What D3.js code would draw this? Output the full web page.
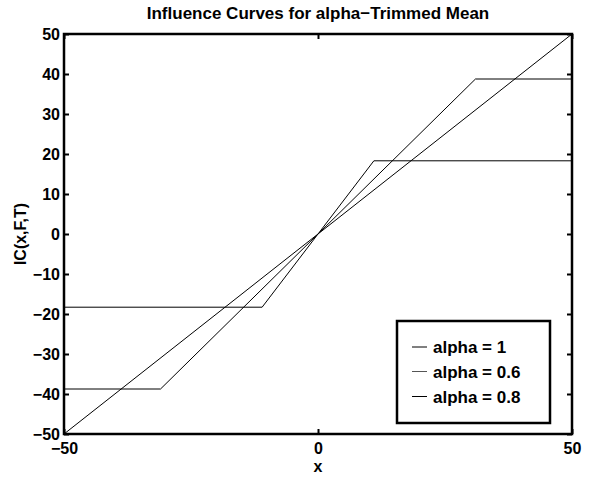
<!DOCTYPE html>
<html><head><meta charset="utf-8">
<script src="https://cdn.jsdelivr.net/npm/d3@7"></script>
<style>
body{margin:0;background:#fff;}
text{font-family:"Liberation Sans",Arial,Helvetica,sans-serif;font-weight:bold;fill:#000;}
</style></head>
<body><svg id="c" width="605" height="477"></svg>
<script>
const title = "Influence Curves for alpha\u2212Trimmed Mean";
const xLabel = "x";
const yLabel = "IC(x,F,T)";
const xTicks = [-50, 0, 50];
const yTicks = [-50, -40, -30, -20, -10, 0, 10, 20, 30, 40, 50];
const seriesNames = ["alpha = 1", "alpha = 0.6", "alpha = 0.8"];
const alpha1X = [-50, 50];
const alpha1Y = [-50, 50];
const alpha06X = [-50, -11, 11, 50];
const alpha06Y = [-18.3, -18.3, 18.3, 18.3];
const alpha08X = [-50, -31, 31, 50];
const alpha08Y = [-38.75, -38.75, 38.75, 38.75];

const svg = d3.select("#c");
const L = 64, R = 572, T = 34, B = 434;
const x = d3.scaleLinear().domain([-50, 50]).range([L, R]);
const y = d3.scaleLinear().domain([-50, 50]).range([B, T]);
const fmt = d => (d < 0 ? "\u2212" + Math.abs(d) : String(d));

const series = [
  {name: seriesNames[0], xs: alpha1X, ys: alpha1Y, color: "#000"},
  {name: seriesNames[1], xs: alpha06X, ys: alpha06Y, color: "#000"},
  {name: seriesNames[2], xs: alpha08X, ys: alpha08Y, color: "#000"}
];
const line = d3.line().x(d => x(d[0])).y(d => y(d[1]));
const plot = svg.append("g");
series.forEach(s => {
  plot.append("path")
    .datum(s.xs.map((v, i) => [v, s.ys[i]]))
    .attr("d", line).attr("fill", "none")
    .attr("stroke", s.color).attr("stroke-width", 1);
});

// axes
const axL = svg.append("g").attr("transform", `translate(${L},0)`)
  .call(d3.axisLeft(y).tickValues(yTicks).tickSize(-5).tickPadding(4).tickFormat(fmt));
const axR = svg.append("g").attr("transform", `translate(${R},0)`)
  .call(d3.axisRight(y).tickValues(yTicks).tickSize(-5).tickFormat(""));
const axB = svg.append("g").attr("transform", `translate(0,${B})`)
  .call(d3.axisBottom(x).tickValues(xTicks).tickSize(-5).tickPadding(9).tickFormat(fmt));
const axT = svg.append("g").attr("transform", `translate(0,${T})`)
  .call(d3.axisTop(x).tickValues(xTicks).tickSize(-5).tickFormat(""));
[axL, axR, axB, axT].forEach(a => {
  a.select(".domain").remove();
  a.selectAll(".tick line").attr("stroke", "#000").attr("stroke-width", 2);
  a.selectAll(".tick text").style("font-size", "16px")
    .style("font-family", "'Liberation Sans',Arial,sans-serif").style("font-weight", "bold");
});
axL.selectAll(".tick text").attr("dy", "0.36em");
axB.selectAll(".tick text").attr("dy", "0.71em");

svg.append("rect").attr("x", L).attr("y", T).attr("width", R - L).attr("height", B - T)
  .attr("fill", "none").attr("stroke", "#000").attr("stroke-width", 2.5);

// labels
svg.append("text").attr("x", (L + R) / 2).attr("y", 19).attr("text-anchor", "middle")
  .style("font-size", "17px").text(title);
svg.append("text").attr("x", (L + R) / 2).attr("y", 472).attr("text-anchor", "middle")
  .style("font-size", "16px").text(xLabel);
svg.append("text").attr("transform", `translate(26,${(T + B) / 2}) rotate(-90)`)
  .attr("text-anchor", "middle").style("font-size", "16px").text(yLabel);

// legend
const lg = svg.append("g");
lg.append("rect").attr("x", 397).attr("y", 321).attr("width", 153).attr("height", 102)
  .attr("fill", "#fff").attr("stroke", "#000").attr("stroke-width", 2.5);
const legY = [347, 371.5, 396.5];
series.forEach((s, i) => {
  lg.append("line").attr("x1", 412).attr("x2", 427).attr("y1", legY[i]).attr("y2", legY[i])
    .attr("stroke", i === 1 ? "#555" : "#000").attr("stroke-width", 1);
  lg.append("text").attr("x", 433).attr("y", legY[i]).attr("dy", "0.36em")
    .style("font-size", "17px").text(s.name);
});
</script></body></html>
